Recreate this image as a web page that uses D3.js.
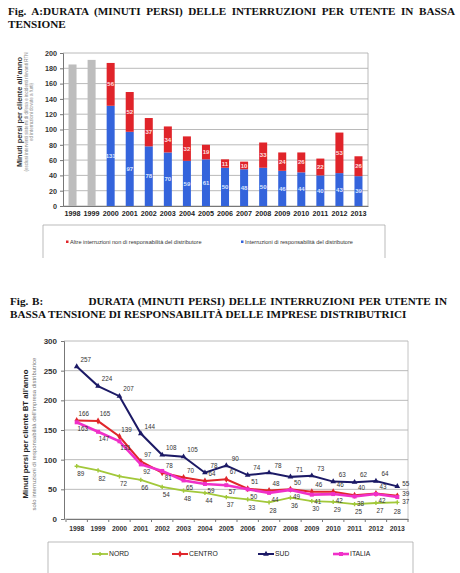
<!DOCTYPE html>
<html><head><meta charset="utf-8">
<script src="https://cdn.jsdelivr.net/npm/d3@7"></script>
<style>
body{margin:0;background:#fff;width:460px;height:573px;overflow:hidden;position:relative;font-family:"Liberation Sans",Arial,sans-serif}
.title{position:absolute;font-family:"Liberation Serif","Times New Roman",serif;font-weight:bold;font-size:11.2px;line-height:12.5px;color:#111;text-align:justify}
svg{position:absolute;left:0;top:0}
</style></head><body>
<div class="title" style="left:8px;top:5px;width:447px">Fig. A:DURATA (MINUTI PERSI) DELLE INTERRUZIONI PER UTENTE IN BASSA TENSIONE</div>
<div class="title" style="left:10px;top:295px;width:437px">Fig. B:&nbsp;&nbsp;&nbsp;&nbsp;&nbsp;&nbsp;&nbsp;&nbsp;&nbsp;&nbsp;&nbsp; DURATA (MINUTI PERSI) DELLE INTERRUZIONI PER UTENTE IN BASSA TENSIONE DI RESPONSABILITÀ DELLE IMPRESE DISTRIBUTRICI</div>
<svg id="c" width="460" height="573"></svg>
<script>
// ---- data: Fig. A ----
const yearsA = ["1998","1999","2000","2001","2002","2003","2004","2005","2006","2007","2008","2009","2010","2011","2012","2013"];
const totalOld = [185,191,null,null,null,null,null,null,null,null,null,null,null,null,null,null];
const respDistr = [null,null,131,97,78,70,59,61,50,48,50,46,44,40,43,39];
const altreInt = [null,null,56,52,37,34,32,19,11,10,33,24,26,22,53,26];
const ticksA = [0,20,40,60,80,100,120,140,160,180,200];
const legendA = ["Altre interruzioni non di responsabilità del distributore","Interruzioni di responsabilità del distributore"];

// ---- data: Fig. B ----
const yearsB = yearsA;
const nord   = [89,82,72,66,54,48,44,37,33,28,36,30,29,25,27,28];
const centro = [166,165,139,97,78,70,64,67,51,48,50,46,46,40,43,39];
const sud    = [257,224,207,144,108,105,78,90,74,78,71,73,63,62,64,55];
const italia = [163,147,131,92,81,65,59,57,50,44,49,41,42,38,42,37];
const ticksB = [0,50,100,150,200,250,300];
const seriesNames = ["NORD","CENTRO","SUD","ITALIA"];

const svg = d3.select("#c");
const F = "Liberation Sans, Arial, sans-serif";

// ================= FIG A =================
const xA = d3.scaleBand(yearsA,[63,368]).paddingInner(0.58).paddingOuter(0.29);
const yA = d3.scaleLinear([0,200],[206,53]);
const gA = svg.append("g");
gA.selectAll("line.g").data(ticksA).join("line")
  .attr("x1",63).attr("x2",368).attr("y1",d=>yA(d)).attr("y2",d=>yA(d))
  .attr("stroke","#a8a8a8").attr("stroke-width",0.8);
gA.append("line").attr("x1",368).attr("x2",368).attr("y1",yA(200)).attr("y2",yA(0)).attr("stroke","#a8a8a8").attr("stroke-width",0.8);
const axA = gA.append("g").attr("transform","translate(63,0)")
  .call(d3.axisLeft(yA).tickValues(ticksA).tickSize(3).tickPadding(3));
axA.select(".domain").attr("stroke","#777");
axA.selectAll("line").attr("stroke","#777");
axA.selectAll("text").attr("font-family",F).attr("font-size",7.2).attr("font-weight","bold").attr("fill","#333");
const axAx = gA.append("g").attr("transform","translate(0,206)")
  .call(d3.axisBottom(xA).tickSize(0).tickPadding(5));
axAx.select(".domain").attr("stroke","#777");
axAx.selectAll("text").attr("font-family",F).attr("font-size",7.2).attr("font-weight","bold").attr("fill","#222");

yearsA.forEach((yr,i)=>{
  const x = xA(yr), w = xA.bandwidth();
  if(totalOld[i]!=null){
    gA.append("rect").attr("x",x).attr("width",w).attr("y",yA(totalOld[i])).attr("height",yA(0)-yA(totalOld[i])).attr("fill","#bdbdbd");
  }
  if(respDistr[i]!=null){
    const b = respDistr[i], r = altreInt[i];
    gA.append("rect").attr("x",x).attr("width",w).attr("y",yA(b)).attr("height",yA(0)-yA(b)).attr("fill","#3464dc");
    gA.append("rect").attr("x",x).attr("width",w).attr("y",yA(b+r)).attr("height",yA(b)-yA(b+r)).attr("fill","#e0242a");
    gA.append("text").attr("x",x+w/2).attr("y",yA(b/2)).attr("dy","0.35em").attr("text-anchor","middle")
      .attr("font-family",F).attr("font-size",6).attr("font-weight","bold").attr("fill","#dde6ff").text(b);
    gA.append("text").attr("x",x+w/2).attr("y",yA(b+r/2)).attr("dy","0.35em").attr("text-anchor","middle")
      .attr("font-family",F).attr("font-size",6).attr("font-weight","bold").attr("fill","#ffe0e0").text(r);
  }
});
// y labels A
gA.append("text").attr("transform","translate(22,112) rotate(-90)").attr("text-anchor","middle")
  .attr("font-family",F).attr("font-size",7.4).attr("font-weight","bold").attr("fill","#333").text("Minuti persi per cliente all'anno");
gA.append("text").attr("transform","translate(28,112) rotate(-90)").attr("text-anchor","middle")
  .attr("font-family",F).attr("font-size",4.6).attr("fill","#888").text("(esclusi interventi sistemi di difesa e incidenti rilevanti RTN");
gA.append("text").attr("transform","translate(33,112) rotate(-90)").attr("text-anchor","middle")
  .attr("font-family",F).attr("font-size",4.6).attr("fill","#888").text("ed interruzioni dovute a furti)");
// legend A
gA.append("path").attr("d","M43,258V225H385V258").attr("fill","none").attr("stroke","#aaa").attr("stroke-width",0.8);
const legColA = ["#e0242a","#3464dc"], legXA=[66,241];
legendA.forEach((t,i)=>{
  gA.append("rect").attr("x",legXA[i]).attr("y",240.5).attr("width",2.5).attr("height",2.5).attr("fill",legColA[i]);
  gA.append("text").attr("x",legXA[i]+4).attr("y",242).attr("dy","0.35em").attr("font-family",F).attr("font-size",5.6).attr("fill","#333").text(t);
});

// ================= FIG B =================
const xB = d3.scaleBand(yearsB,[66,408]);
const cx = d => xB(d)+xB.bandwidth()/2;
const yB = d3.scaleLinear([0,300],[519,341]);
const gB = svg.append("g");
gB.selectAll("line.g").data(ticksB).join("line")
  .attr("x1",64).attr("x2",408).attr("y1",d=>yB(d)).attr("y2",d=>yB(d))
  .attr("stroke","#a8a8a8").attr("stroke-width",0.8);
gB.append("line").attr("x1",408).attr("x2",408).attr("y1",yB(300)).attr("y2",yB(0)).attr("stroke","#b5b5b5").attr("stroke-width",0.8);
const axB = gB.append("g").attr("transform","translate(64,0)")
  .call(d3.axisLeft(yB).tickValues(ticksB).tickSize(3).tickPadding(4));
axB.select(".domain").attr("stroke","#777");
axB.selectAll("line").attr("stroke","#777");
axB.selectAll("text").attr("font-family",F).attr("font-size",8).attr("font-weight","bold").attr("fill","#333");
const axBx = gB.append("g").attr("transform","translate(0,519)")
  .call(d3.axisBottom(xB).tickSize(0).tickPadding(7));
axBx.select(".domain").attr("stroke","#777");
axBx.selectAll("text").attr("font-family",F).attr("font-size",6.8).attr("font-weight","bold").attr("fill","#333");
gB.selectAll("line.tk").data(yearsB.concat(["end"])).join("line")
  .attr("x1",(d,i)=>66+i*xB.step()).attr("x2",(d,i)=>66+i*xB.step()).attr("y1",519).attr("y2",522).attr("stroke","#777");

const series = [
  {name:"NORD", vals:nord, col:"#a2c83a", sym:d3.symbolCross, sz:10, w:1.8, dx:4, dy:8, ldx:0, ldy:9, la:"middle"},
  {name:"CENTRO", vals:centro, col:"#e0262b", sym:d3.symbolDiamond, sz:14, w:2, dx:7, dy:-7, ldx:5, ldy:-2.5, la:"start"},
  {name:"SUD", vals:sud, col:"#1c1a66", sym:d3.symbolTriangle, sz:14, w:2, dx:9, dy:-7, ldx:5, ldy:-3, la:"start"},
  {name:"ITALIA", vals:italia, col:"#f030c8", sym:d3.symbolSquare, sz:16, w:2.6, dx:6, dy:7, ldx:5, ldy:4.5, la:"start"}
];
const line = d3.line().x((d,i)=>cx(yearsB[i])).y(d=>yB(d));
series.forEach(s=>{
  gB.append("path").datum(s.vals).attr("d",line).attr("fill","none").attr("stroke",s.col).attr("stroke-width",s.w);
  s.vals.forEach((v,i)=>{
    gB.append("path").attr("d",d3.symbol(s.sym,s.sz)()).attr("transform",`translate(${cx(yearsB[i])},${yB(v)})`).attr("fill",s.col);
  });
});
series.forEach(s=>{
  s.vals.forEach((v,i)=>{
    const last = i===s.vals.length-1;
    gB.append("text").attr("x",cx(yearsB[i])+(last?s.ldx:s.dx)).attr("y",yB(v)+(last?s.ldy:s.dy))
      .attr("dy","0.35em").attr("text-anchor",last?s.la:"middle")
      .attr("font-family",F).attr("font-size",6.3).attr("fill","#333").text(v);
  });
});
// y labels B
gB.append("text").attr("transform","translate(28,434) rotate(-90)").attr("text-anchor","middle")
  .attr("font-family",F).attr("font-size",7.8).attr("font-weight","bold").attr("fill","#222").text("Minuti persi per cliente BT all'anno");
gB.append("text").attr("transform","translate(35.5,434) rotate(-90)").attr("text-anchor","middle")
  .attr("font-family",F).attr("font-size",6).attr("fill","#777").text("solo interruzioni di responsabilità dell'impresa distributrice");
// legend B
gB.append("path").attr("d","M48,573V542H413V573").attr("fill","none").attr("stroke","#aaa").attr("stroke-width",0.8);
const legXB = [92,172,258,333];
series.forEach((s,i)=>{
  gB.append("line").attr("x1",legXB[i]).attr("x2",legXB[i]+16).attr("y1",554).attr("y2",554).attr("stroke",s.col).attr("stroke-width",s.w);
  gB.append("path").attr("d",d3.symbol(s.sym,s.sz)()).attr("transform",`translate(${legXB[i]+8},554)`).attr("fill",s.col);
  gB.append("text").attr("x",legXB[i]+17).attr("y",554).attr("dy","0.35em").attr("font-family",F).attr("font-size",6.8).attr("fill","#222").text(seriesNames[i]);
});
</script>
</body></html>
